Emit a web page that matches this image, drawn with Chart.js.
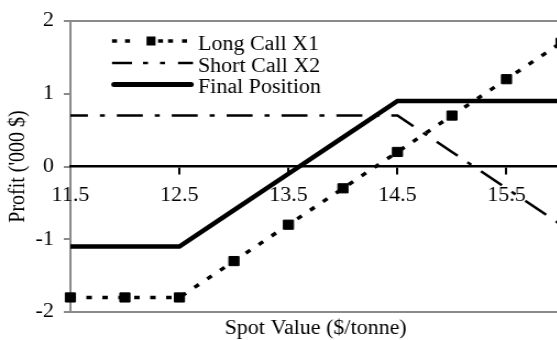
<!DOCTYPE html>
<html><head><meta charset="utf-8">
<script src="https://cdn.jsdelivr.net/npm/chart.js@4"></script>
<style>
html,body{margin:0;padding:0;overflow:hidden;background:#fff;width:557px;height:340px;}
#wrap{position:absolute;left:0;top:0;width:530px;height:340px;transform:scaleX(1.1);transform-origin:0 0;}
</style></head><body>
<div id="wrap"><canvas id="c"></canvas></div>
<script>
// ---- data ----
const categories = ['11.5','12','12.5','13','13.5','14','14.5','15','15.5','16'];
const xTickLabels = ['11.5','12.5','13.5','14.5','15.5'];
const yTickLabels = ['-2','-1','0','1','2'];
const longCallX1 = [-1.8,-1.8,-1.8,-1.3,-0.8,-0.3,0.2,0.7,1.2,1.7];
const shortCallX2 = [0.7,0.7,0.7,0.7,0.7,0.7,0.7,0.2,-0.3,-0.8];
const finalPosition = [-1.1,-1.1,-1.1,-0.6,-0.1,0.4,0.9,0.9,0.9,0.9];
const seriesNames = ['Long Call X1','Short Call X2','Final Position'];
const xTitle = 'Spot Value ($/tonne)';
const yTitle = "Profit ('000 $)";

// ---- style ----
const S = 1.1; // horizontal stretch of the wrapper
const FONT = "'Liberation Serif', 'Times New Roman', serif";
const GRAY = '#8a8a8a';
const X = v => v / S;

const frameAndLegend = {
  id: 'frameAndLegend',
  afterDraw(chart) {
    const ctx = chart.ctx, a = chart.chartArea;
    ctx.save();
    ctx.strokeStyle = GRAY; ctx.lineWidth = 2; ctx.setLineDash([]);
    ctx.beginPath(); ctx.moveTo(a.left - 1, a.top); ctx.lineTo(a.right, a.top); ctx.stroke();

    ctx.strokeStyle = '#000'; ctx.fillStyle = '#000';
    // row 1: long call sample
    ctx.lineWidth = 3.5; ctx.lineCap = 'butt';
    [[112,117],[125,130],[158,163],[168,173],[182,187]].forEach(([p,q]) => {
      ctx.beginPath(); ctx.moveTo(X(p), 41); ctx.lineTo(X(q), 41); ctx.stroke();
    });
    ctx.fillRect(X(146.5), 36.5, X(9), 9);
    // row 2: short call sample
    ctx.lineWidth = 2.5;
    [[112,132],[143,148],[160,165],[178,193]].forEach(([p,q]) => {
      ctx.beginPath(); ctx.moveTo(X(p), 63); ctx.lineTo(X(q), 63); ctx.stroke();
    });
    // row 3: final position sample
    ctx.lineWidth = 5; ctx.lineCap = 'round';
    ctx.beginPath(); ctx.moveTo(X(114), 84.5); ctx.lineTo(X(191), 84.5); ctx.stroke();

    ctx.font = '20px ' + FONT; ctx.textBaseline = 'alphabetic'; ctx.textAlign = 'left';
    ctx.fillText(seriesNames[0], X(198), 50);
    ctx.fillText(seriesNames[1], X(198), 71.5);
    ctx.fillText(seriesNames[2], X(198), 93);
    ctx.restore();
  }
};

new Chart(document.getElementById('c'), {
  type: 'line',
  data: {
    labels: categories,
    datasets: [
      { label: seriesNames[0], data: longCallX1, borderColor: '#000', borderWidth: 3.5,
        borderDash: [5, 9.5], borderDashOffset: 0, tension: 0, fill: false,
        pointStyle: 'rect', pointRadius: 6.5, pointBackgroundColor: '#000', pointBorderColor: '#000',
        pointBorderWidth: 1, pointHoverRadius: 6.5, clip: false },
      { label: seriesNames[1], data: shortCallX2, borderColor: '#000', borderWidth: 2.5,
        borderDash: [23.6, 10.9, 4.5, 10.9], borderDashOffset: 7.7, tension: 0, fill: false,
        pointRadius: 0, pointHoverRadius: 0, clip: false },
      { label: seriesNames[2], data: finalPosition, borderColor: '#000', borderWidth: 4.5,
        tension: 0, fill: false, pointRadius: 0, pointHoverRadius: 0, clip: false,
        borderCapStyle: 'butt', borderJoinStyle: 'miter' }
    ]
  },
  options: {
    responsive: true, maintainAspectRatio: false, animation: false,
    events: [],
    layout: { padding: { left: 0, right: 20, top: 18, bottom: 0 } },
    plugins: { legend: { display: false }, tooltip: { enabled: false } },
    scales: {
      y: {
        min: -2, max: 2,
        ticks: { stepSize: 1, color: '#000', font: { family: FONT, size: 20 }, padding: 9,
          callback: v => { const t = yTickLabels.find(s => Number(s) === v); return t === undefined ? '' : t; } },
        grid: { display: true, drawOnChartArea: false, drawTicks: true, tickLength: 6, color: GRAY, lineWidth: 2 },
        border: { display: true, color: GRAY, width: 2 },
        title: { display: true, text: yTitle, color: '#000', font: { family: FONT, size: 20, lineHeight: 1.2 }, padding: { top: 5, bottom: 0 } },
        afterFit: s => { s.width = 64; }
      },
      x: {
        position: { y: 0 },
        offset: false,
        ticks: { autoSkip: false, maxRotation: 0, minRotation: 0, color: '#000', padding: 10,
          font: { family: FONT, size: 20 },
          callback: function(v, i) { const l = categories[i]; return xTickLabels.includes(l) ? l : ''; } },
        grid: { display: true, drawOnChartArea: false, drawTicks: true, tickLength: 7, lineWidth: 2,
          color: c => xTickLabels.includes(categories[c.index]) ? '#000' : 'rgba(0,0,0,0)' },
        border: { display: true, color: '#000', width: 2.5 }
      },
      x2: {
        type: 'category', position: 'bottom', labels: categories, offset: false,
        ticks: { display: false },
        grid: { display: false, drawTicks: false },
        border: { display: true, color: GRAY, width: 2 },
        title: { display: true, text: xTitle, color: '#000', font: { family: FONT, size: 20, lineHeight: 1 }, padding: { top: 0, bottom: 1 } },
        afterFit: s => { s.height = 28; }
      }
    }
  },
  plugins: [frameAndLegend]
});
</script>
</body></html>
